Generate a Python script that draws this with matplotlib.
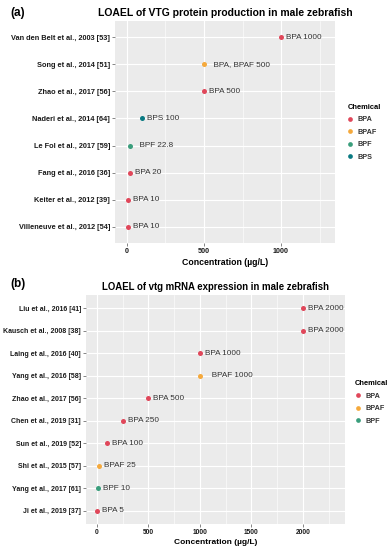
import matplotlib
matplotlib.use("Agg")
import matplotlib.pyplot as plt
from matplotlib.lines import Line2D
from matplotlib.ticker import MultipleLocator

plt.rcParams['font.family'] = ['Liberation Sans', 'DejaVu Sans']

# ---- data panel (a) ----
a_studies = ["Van den Belt et al., 2003 [53]", "Song et al., 2014 [51]", "Zhao et al., 2017 [56]",
             "Naderi et al., 2014 [64]", "Le Fol et al., 2017 [59]", "Fang et al., 2016 [36]",
             "Keiter et al., 2012 [39]", "Villeneuve et al., 2012 [54]"]
a_values = [1000, 500, 500, 100, 22.8, 20, 10, 10]
a_chem = ["BPA", "BPAF", "BPA", "BPS", "BPF", "BPA", "BPA", "BPA"]
a_labels = ["BPA 1000", "  BPA, BPAF 500", "BPA 500", "BPS 100", "  BPF 22.8", "BPA 20", "BPA 10", "BPA 10"]
a_legend = ["BPA", "BPAF", "BPF", "BPS"]

# ---- data panel (b) ----
b_studies = ["Liu et al., 2016 [41]", "Kausch et al., 2008 [38]", "Laing et al., 2016 [40]",
             "Yang et al., 2016 [58]", "Zhao et al., 2017 [56]", "Chen et al., 2019 [31]",
             "Sun et al., 2019 [52]", "Shi et al., 2015 [57]", "Yang et al., 2017 [61]", "Ji et al., 2019 [37]"]
b_values = [2000, 2000, 1000, 1000, 500, 250, 100, 25, 10, 5]
b_chem = ["BPA", "BPA", "BPA", "BPAF", "BPA", "BPA", "BPA", "BPAF", "BPF", "BPA"]
b_labels = ["BPA 2000", "BPA 2000", "BPA 1000", "   BPAF 1000", "BPA 500", "BPA 250", "BPA 100",
            "BPAF 25", "BPF 10", "BPA 5"]
b_legend = ["BPA", "BPAF", "BPF"]

colors = {"BPA": "#E0475A", "BPAF": "#F5A93C", "BPF": "#3A9E7C", "BPS": "#0A7A82"}

fig = plt.figure(figsize=(3.92, 5.5), dpi=100)


def panel(rect, studies, values, chem, labels, xlim, major, title, tsize, tick_size, xl_size,
          tag, tagpos, legend_items, legpos):
    ax = fig.add_axes(rect)
    ax.set_facecolor("#EBEBEB")
    n = len(studies)
    ys = list(range(n, 0, -1))
    ax.set_xlim(*xlim)
    ax.set_ylim(0.4, n + 0.6)
    ax.xaxis.set_major_locator(MultipleLocator(major))
    ax.xaxis.set_minor_locator(MultipleLocator(major / 2))
    ax.set_yticks(ys)
    ax.set_yticklabels(studies, fontsize=tick_size, fontweight='bold', color='#1a1a1a')
    ax.grid(which='major', color='white', lw=0.8)
    ax.grid(which='minor', color='white', lw=0.4)
    ax.set_axisbelow(True)
    for s in ax.spines.values():
        s.set_visible(False)
    ax.tick_params(axis='both', which='major', length=2, width=0.5, color='#555555', pad=1.5)
    ax.tick_params(axis='x', which='minor', length=0)
    for lab in ax.get_xticklabels():
        lab.set_fontsize(tick_size - 0.2)
        lab.set_fontweight('bold')
        lab.set_color('#1a1a1a')
    for y, v, c, l in zip(ys, values, chem, labels):
        ax.scatter([v], [y], s=13, color=colors[c], zorder=3, linewidths=0)
        ax.annotate(l, (v, y), xytext=(3.6, 0), textcoords='offset points', ha='left', va='center',
                    fontsize=5.9, color='#333333')
    ax.set_xlabel("Concentration (µg/L)", fontsize=xl_size, fontweight='bold', labelpad=2)
    ax.set_title(title, fontsize=tsize, fontweight='bold', pad=3.5)
    fig.text(tagpos[0], tagpos[1], tag, fontsize=8.5, fontweight='bold', ha='left', va='center')
    handles = [Line2D([0], [0], marker='o', ls='', markersize=3.4, color=colors[c], markeredgewidth=0)
               for c in legend_items]
    leg = fig.legend(handles, legend_items, loc='upper left', bbox_to_anchor=legpos, frameon=False,
                     prop={'weight': 'bold', 'size': 5.2}, title="Chemical",
                     title_fontproperties={'weight': 'bold', 'size': 5.4},
                     handlelength=0.8, handletextpad=0.6, labelspacing=0.75, borderpad=0, alignment='left')
    for t in leg.get_texts():
        t.set_color('#333333')
    return ax


panel([0.293, 0.558, 0.562, 0.404], a_studies, a_values, a_chem, a_labels, (-78, 1351), 500,
      "LOAEL of VTG protein production in male zebrafish", 7.5, 5.3, 6.3,
      "(a)", (0.027, 0.976), a_legend, (0.877, 0.818))
panel([0.219, 0.047, 0.661, 0.417], b_studies, b_values, b_chem, b_labels, (-107, 2408), 500,
      "LOAEL of vtg mRNA expression in male zebrafish", 6.9, 5.0, 6.0,
      "(b)", (0.027, 0.484), b_legend, (0.897, 0.315))

fig.savefig("out.png", dpi=100)
